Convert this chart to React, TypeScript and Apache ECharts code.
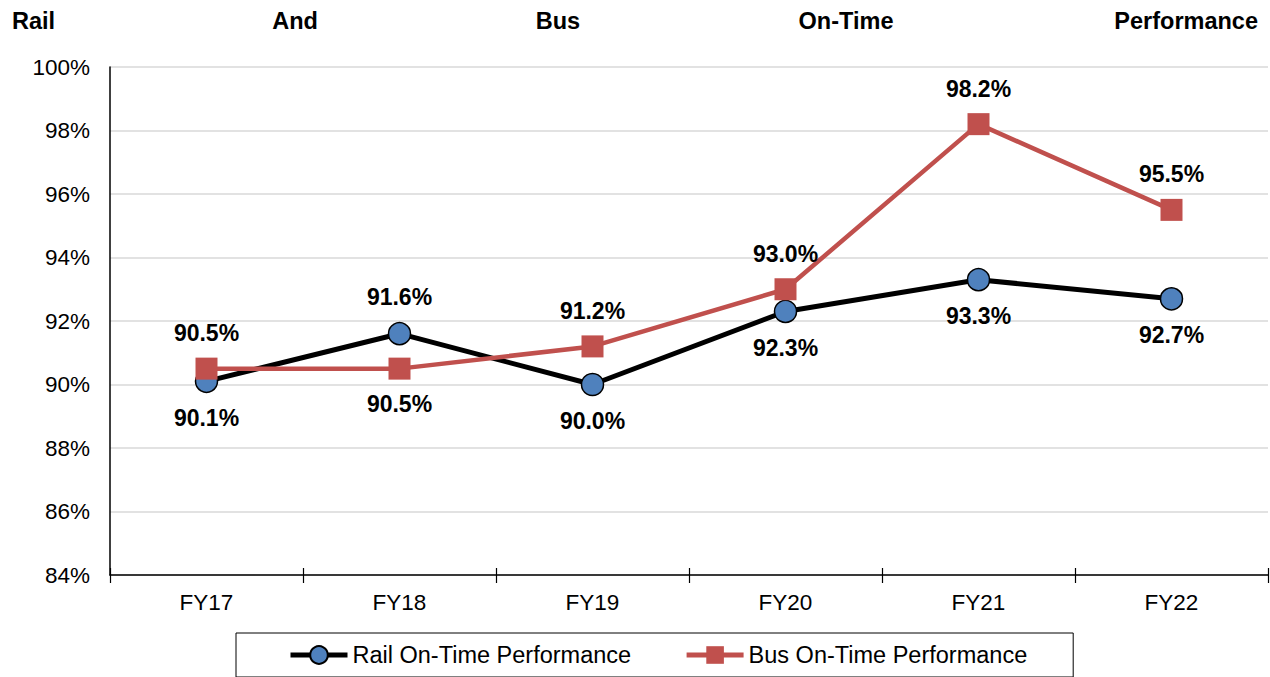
import React, { useEffect, useRef } from "react";
import * as echarts from "echarts";

const categories = ["FY17", "FY18", "FY19", "FY20", "FY21", "FY22"];
const railValues = [90.1, 91.6, 90.0, 92.3, 93.3, 92.7];
const busValues = [90.5, 90.5, 91.2, 93.0, 98.2, 95.5];
// label above (true) or below (false)
const railLabelAbove = [false, true, false, false, false, false];
const busLabelAbove = [true, false, true, true, true, true];
const titleWords = ["Rail", "And", "Bus", "On-Time", "Performance"];
const titleX = [12, 295, 558, 846, 1258];
const titleAlign = ["left", "center", "center", "center", "right"];
const yMin = 84;
const yMax = 100;
const yStep = 2;

const FONT = "Liberation Sans, Arial, sans-serif";

export default function App() {
  const ref = useRef<HTMLDivElement>(null);
  useEffect(() => {
    if (!ref.current) return;
    const chart = echarts.init(ref.current, null, { renderer: "svg" });
    const labelStyle = {
      show: true,
      fontSize: 23,
      fontWeight: "bold",
      color: "#000",
      fontFamily: FONT,
      distance: 13,
      formatter: (p: any) => p.value.toFixed(1) + "%",
    };
    const mk = (vals: number[], above: boolean[]) =>
      vals.map((v, i) => ({ value: v, label: { position: above[i] ? "top" : "bottom" } }));
    chart.setOption({
      animation: false,
      textStyle: { fontFamily: FONT },
      grid: { left: 110, top: 67, right: 2, bottom: 102, containLabel: false },
      graphic: titleWords.map((w, i) => ({
        type: "text",
        x: titleX[i],
        y: 21,
        style: {
          text: w,
          font: `bold 23.5px ${FONT}`,
          fill: "#000",
          textAlign: titleAlign[i],
          textVerticalAlign: "middle",
        },
      })),
      legend: {
        left: 236,
        top: 633,
        padding: [10, 46, 10, 52],
        itemGap: 53,
        itemWidth: 57,
        itemHeight: 22,
        borderColor: "#000",
        borderWidth: 1,
        textStyle: { fontSize: 23.5, color: "#000", fontFamily: FONT },
        data: [
          { name: "Rail On-Time Performance", lineStyle: { width: 5 } },
          { name: "Bus On-Time Performance", lineStyle: { width: 5 } },
        ],
      },
      xAxis: [
        {
          type: "category",
          data: categories,
          boundaryGap: true,
          position: "bottom",
          axisLine: { show: true, lineStyle: { color: "#000", width: 1.5 } },
          axisTick: { show: true, alignWithLabel: false, length: 8, lineStyle: { color: "#000", width: 1.2 } },
          axisLabel: { fontSize: 22.5, color: "#000", margin: 16, fontFamily: FONT },
          splitLine: { show: false },
        },
        {
          type: "category",
          data: categories,
          boundaryGap: true,
          position: "bottom",
          axisLine: { show: false },
          axisTick: { show: true, inside: true, alignWithLabel: false, length: 7, lineStyle: { color: "#000", width: 1.2 } },
          axisLabel: { show: false },
          splitLine: { show: false },
        },
      ],
      yAxis: {
        type: "value",
        min: yMin,
        max: yMax,
        interval: yStep,
        axisLine: { show: true, lineStyle: { color: "#000", width: 1.5 } },
        axisTick: { show: false },
        axisLabel: { fontSize: 22.5, color: "#000", margin: 20, formatter: "{value}%", fontFamily: FONT },
        splitLine: { show: true, lineStyle: { color: "#d9d9d9", width: 1.5 } },
      },
      series: [
        {
          name: "Rail On-Time Performance",
          type: "line",
          data: mk(railValues, railLabelAbove),
          symbol: "circle",
          symbolSize: 22,
          lineStyle: { color: "#000", width: 5 },
          itemStyle: { color: "#4f81bd", borderColor: "#000", borderWidth: 1.5 },
          label: labelStyle,
          z: 2,
        },
        {
          name: "Bus On-Time Performance",
          type: "line",
          data: mk(busValues, busLabelAbove),
          symbol: "rect",
          symbolSize: 22,
          lineStyle: { color: "#c0504d", width: 4.5 },
          itemStyle: { color: "#c0504d" },
          label: labelStyle,
          z: 3,
        },
      ],
    });
    return () => chart.dispose();
  }, []);
  return (
    <div
      ref={ref}
      style={{ position: "absolute", left: 0, top: 0, width: 1270, height: 677, background: "#fff" }}
    />
  );
}
